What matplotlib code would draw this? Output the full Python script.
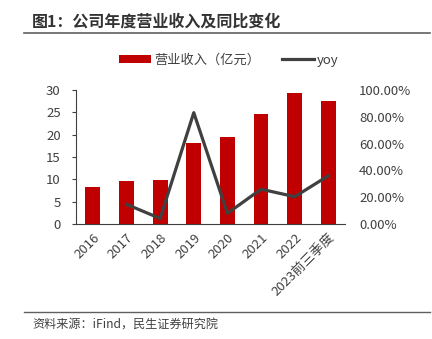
import matplotlib.pyplot as plt
from matplotlib.ticker import FuncFormatter

plt.rcParams['font.family'] = ['Noto Sans CJK SC', 'DejaVu Sans']

years = ['2016', '2017', '2018', '2019', '2020', '2021', '2022', '2023前三季度']
revenue = [8.35, 9.6, 9.9, 18.1, 19.5, 24.5, 29.3, 27.4]
yoy = [None, 0.147, 0.042, 0.83, 0.08, 0.26, 0.204, 0.36]

txt = '#404040'
red = '#C00000'

fig = plt.figure(figsize=(4.32, 3.39), dpi=100)
ax = fig.add_axes([0.176, 0.339, 0.623, 0.396])
ax2 = ax.twinx()

x = list(range(len(years)))
ax.bar(x, revenue, width=0.44, color=red, label='营业收入（亿元）', zorder=2)
ax.set_xlim(-0.5, len(years) - 0.5)
ax.set_ylim(0, 30)
ax.set_yticks(range(0, 31, 5))
ax.set_xticks(x)
ax.set_xticklabels(years, rotation=45, ha='right', rotation_mode='anchor')

yx = [i for i, v in zip(x, yoy) if v is not None]
yv = [v for v in yoy if v is not None]
ax2.plot(yx, yv, color=txt, lw=2.3, label='yoy', zorder=3)
ax2.set_ylim(0, 1.0)
ax2.set_yticks([0, 0.2, 0.4, 0.6, 0.8, 1.0])
ax2.yaxis.set_major_formatter(FuncFormatter(lambda v, p: f'{v * 100:.2f}%'))

for a in (ax, ax2):
    for s in ('top', 'right'):
        a.spines[s].set_visible(False)
ax2.spines['left'].set_visible(False)
ax2.spines['bottom'].set_visible(False)
ax.spines['left'].set_color(txt)
ax.spines['bottom'].set_color(txt)
ax.spines['left'].set_linewidth(0.8)
ax.spines['bottom'].set_linewidth(0.8)

fs = 9.5
ax.tick_params(axis='y', colors=txt, labelsize=fs, length=3, width=0.8, pad=8)
ax.tick_params(axis='x', colors=txt, labelsize=fs, length=0, pad=5)
ax2.tick_params(axis='y', colors=txt, labelsize=fs, length=0, pad=10)

# legend above the plot area
h1, l1 = ax.get_legend_handles_labels()
h2, l2 = ax2.get_legend_handles_labels()
fig.legend(h1 + h2, l1 + l2, loc='center', bbox_to_anchor=(0.53, 0.823), ncol=2,
           frameon=False, fontsize=fs, handlelength=2.4, handleheight=0.55,
           columnspacing=1.7, handletextpad=0.25, labelcolor=txt)

fig.text(0.074, 0.935, '图1：公司年度营业收入及同比变化', fontsize=11.5, fontweight='bold',
         color='#333333', va='center')
fig.add_artist(plt.Line2D([0.056, 0.995], [0.903, 0.903], color='#606060', lw=1.2))
fig.add_artist(plt.Line2D([0.056, 0.995], [0.08, 0.08], color='#606060', lw=1.0))
fig.text(0.076, 0.041, '资料来源：iFind，民生证券研究院', fontsize=8.7, color=txt, va='center')

fig.savefig('out.png', dpi=100)
